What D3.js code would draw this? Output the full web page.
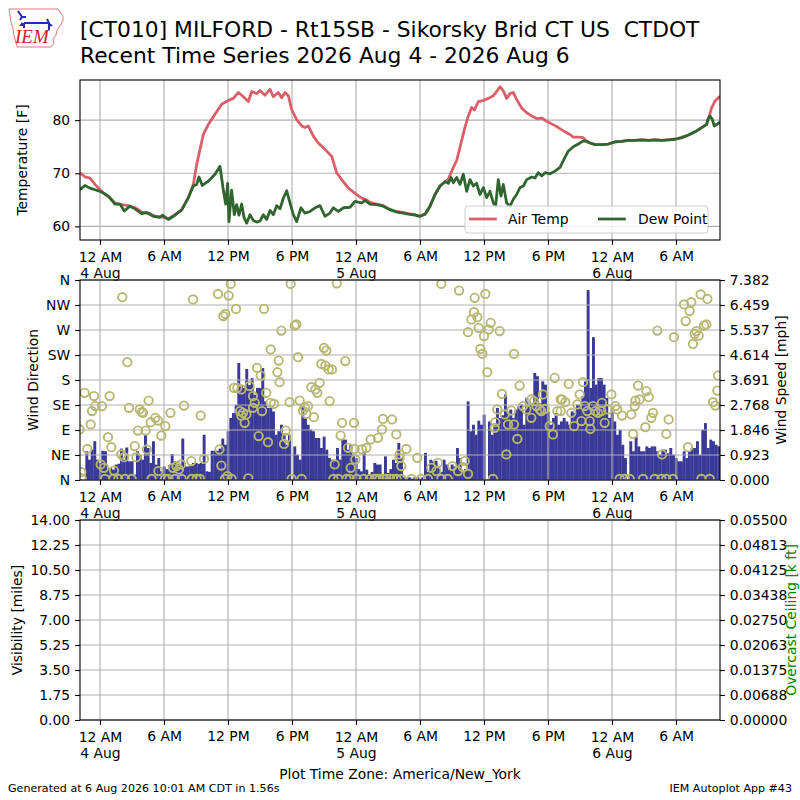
<!DOCTYPE html>
<html><head><meta charset="utf-8">
<script src="https://cdn.jsdelivr.net/npm/d3@7"></script>
<style>body{margin:0;background:#fff} svg{font-family:"DejaVu Sans",sans-serif}</style>
</head><body><svg id="c" width="800" height="800"></svg>
<script>
// ---------------- DATA ----------------
const titleLines = ["[CT010] MILFORD - Rt15SB - Sikorsky Brid CT US  CTDOT",
                    "Recent Time Series 2026 Aug 4 - 2026 Aug 6"];
const footerLeft = "Generated at 6 Aug 2026 10:01 AM CDT in 1.56s";
const footerRight = "IEM Autoplot App #43";
const xLabel = "Plot Time Zone: America/New_York";
// hours relative to 2026-08-04 00:00 America/New_York
const baseTimeMs = Date.UTC(2026, 7, 4, 0, 0);
const xStartHour = -1.875, xEndHour = 58.125;
const timeTickHours = [0, 6, 12, 18, 24, 30, 36, 42, 48, 54];
const hourLabels = ["12 AM", "6 AM", "12 PM", "6 PM"];

const airTemp = [[-1.875,70.1],[-1.406,69.3],[-0.9375,69.1],[-0.469,67.9],[0,66.9],[0.469,66.0],[0.9375,65.4],[1.406,64.4],[2.03,64.1],[2.66,63.9],[3.28,63.5],[3.91,62.7],[4.53,62.5],[5.16,61.9],[5.78,61.8],[6.41,61.4],[7.03,62.2],[7.66,63.1],[8.28,65.4],[8.75,67.9],[9.06,71.6],[9.375,74.5],[9.69,77.3],[10.16,79.2],[10.78,81.1],[11.41,83.0],[12.03,83.7],[12.5,84.1],[12.97,85.2],[13.44,84.4],[13.91,83.5],[14.22,85.4],[14.69,85.0],[15.0,85.6],[15.47,84.7],[15.94,85.8],[16.25,84.4],[16.72,85.2],[17.03,84.2],[17.34,85.2],[17.66,84.6],[17.97,82.0],[18.44,80.1],[18.91,78.9],[19.22,78.6],[19.53,78.9],[20.0,77.0],[20.47,75.7],[21.09,74.5],[21.72,73.2],[22.19,70.1],[22.66,68.8],[23.28,67.2],[23.91,66.2],[24.53,65.3],[25.0,65.0],[25.31,64.5],[25.94,64.2],[26.56,63.9],[27.19,63.2],[27.81,62.8],[28.44,62.6],[28.91,62.4],[29.53,62.2],[30.0,61.9],[30.47,62.3],[30.94,63.8],[31.41,66.0],[31.875,67.6],[32.34,68.4],[32.66,68.9],[33.125,71.1],[33.44,72.4],[33.91,76.2],[34.22,78.7],[34.53,80.8],[34.84,82.4],[35.09,81.9],[35.47,83.5],[35.94,83.7],[36.41,84.1],[36.875,84.6],[37.19,85.4],[37.5,86.3],[37.81,85.5],[38.125,84.1],[38.44,85.0],[38.75,85.2],[39.06,83.9],[39.53,82.3],[40.0,81.4],[40.47,80.8],[40.94,80.3],[41.41,80.4],[41.875,79.8],[42.34,79.3],[42.97,78.6],[43.59,77.8],[44.06,77.3],[44.375,76.8],[44.84,76.8],[45.31,76.7],[45.625,76.0],[45.94,75.7],[46.41,75.4],[47.03,75.4],[47.66,75.5],[48.28,75.9],[48.91,76.0],[49.53,76.2],[50.16,76.2],[50.78,76.3],[51.41,76.2],[52.03,76.3],[52.66,76.2],[53.28,76.3],[53.91,76.4],[54.53,76.7],[55.16,77.2],[55.78,77.8],[56.41,78.6],[56.875,79.2],[57.03,80.1],[57.34,82.3],[57.66,83.6],[58.125,84.5]];

const dewPoint = [[-1.875,66.9],[-1.406,67.7],[-0.9375,67.2],[-0.469,66.9],[0,66.6],[0.3125,66.3],[0.78,65.7],[1.406,64.2],[1.875,64.2],[2.28,62.9],[2.81,63.8],[3.28,63.3],[3.91,62.4],[4.375,62.6],[5.0,61.9],[5.625,61.7],[5.84,62.1],[6.41,61.3],[7.03,62.1],[7.66,63.1],[8.28,65.4],[8.75,67.6],[9.06,67.9],[9.28,69.3],[9.59,67.7],[10.16,68.5],[10.78,69.8],[11.25,71.3],[11.56,66.9],[11.78,64.2],[11.97,68.1],[12.09,60.9],[12.34,66.8],[12.59,62.2],[12.81,64.1],[13.03,62.1],[13.28,64.2],[13.5,61.7],[13.75,60.6],[14.06,62.2],[14.375,61.1],[14.69,60.8],[15.0,61.0],[15.31,62.2],[15.625,61.3],[15.94,63.0],[16.25,62.2],[16.56,63.9],[16.875,63.3],[17.19,65.3],[17.5,66.7],[17.81,64.4],[18.125,62.2],[18.44,60.9],[18.84,63.5],[19.22,62.5],[19.69,62.8],[20.16,63.5],[20.625,63.9],[21.09,61.9],[21.56,62.5],[21.875,63.5],[22.34,62.8],[22.81,63.5],[23.44,63.6],[23.91,64.7],[24.53,64.4],[24.84,64.9],[25.31,64.2],[25.94,64.1],[26.56,63.8],[27.19,63.1],[27.81,62.7],[28.44,62.5],[28.91,62.3],[29.53,62.1],[30.0,61.9],[30.47,62.3],[30.94,63.8],[31.41,66.0],[31.875,67.6],[32.34,68.4],[32.66,68.1],[32.91,69.2],[33.125,68.2],[33.44,69.2],[33.75,67.9],[34.06,69.8],[34.375,66.6],[34.69,68.8],[35.0,67.6],[35.31,68.1],[35.625,66.0],[35.94,67.3],[36.25,65.4],[36.56,66.6],[36.875,64.4],[37.09,63.8],[37.34,68.8],[37.59,65.7],[37.81,67.9],[38.125,64.4],[38.44,63.8],[38.75,65.1],[39.06,66.0],[39.375,67.3],[39.69,67.6],[40.0,68.8],[40.47,69.3],[40.78,69.1],[41.09,70.1],[41.41,69.5],[41.72,70.1],[42.19,69.9],[42.66,70.4],[43.125,71.1],[43.59,73.0],[43.91,74.2],[44.375,75.0],[44.84,75.5],[45.31,76.1],[45.625,76.0],[45.94,75.7],[46.41,75.4],[47.03,75.4],[47.66,75.5],[48.28,75.9],[48.91,76.0],[49.53,76.2],[50.16,76.2],[50.78,76.3],[51.41,76.2],[52.03,76.3],[52.66,76.2],[53.28,76.3],[53.91,76.4],[54.53,76.7],[55.16,77.2],[55.78,77.8],[56.41,78.6],[56.875,79.2],[56.97,80.1],[57.19,80.8],[57.41,80.1],[57.59,78.9],[58.125,79.6]];

// wind speed [mph], one value every 15 minutes starting at windStartHour
const windStartHour = -1.5, windStepHours = 0.25;
const windSpeed = [0,1.06,
0.75,1.12,1.43,0.75, 0.63,1.08,1.06,0.40, 0.45,0.38,0.57,0.60, 1.16,0.75,1.20,0.69,
0.69,0.20,1.06,0.93, 0.75,1.67,1.18,0.63, 1.43,0.57,0.81,0.32, 0.50,0.40,0.55,0.96,
0.69,0.60,0.57,1.53, 0.50,0.50,0.55,0.63, 0.63,0.60,0.63,1.67, 0.32,0.30,1.08,1.08,
1.08,1.16,1.53,1.30, 1.80,2.29,2.47,2.78, 4.32,3.50,3.40,4.10, 3.50,3.76,3.15,3.40,
3.40,4.13,2.90,2.66, 2.66,2.53,1.67,1.80, 2.04,1.67,1.30,1.67, 0.00,1.24,0.93,0.75,
2.72,2.29,2.04,1.86, 1.80,1.55,1.55,1.18, 1.60,1.12,0.81,0.75, 0.75,1.18,0.75,1.49,
1.49,1.12,1.30,0.93, 0.81,0.40,0.32,1.06, 0.38,0.20,0.30,0.63, 0.57,0.57,0.20,0.87,
0.26,0.40,0.75,0.63, 1.37,0.81,0.10,0.05, 0.10,0.05,0.10,0.10, 0.05,0.10,1.00,0.30,
0.75,0.69,0.71,0.50, 0.30,0.75,0.57,0.38, 0.57,0.50,1.18,0.81, 0.30,0.40,2.90,1.80,
2.04,1.67,2.19,2.04, 2.41,0.00,2.16,1.67, 2.04,2.66,2.29,2.39, 3.15,2.53,2.60,2.29,
2.60,2.72,2.78,2.04, 3.03,2.78,2.78,3.95, 3.83,2.84,3.64,3.52, 2.53,2.04,2.29,2.47,
2.04,2.16,2.29,2.16, 2.04,2.53,2.47,2.78, 2.78,3.09,3.64,7.01, 3.40,5.27,3.52,3.76,
3.76,3.52,3.03,2.29, 2.66,2.16,1.67,1.86, 1.30,0.81,0.00,1.43, 1.06,1.60,1.24,1.06,
1.06,1.24,1.18,1.24, 1.24,1.06,0.93,1.12, 1.12,0.99,1.18,0.93, 0.81,0.69,0.69,1.06,
0.81,1.06,1.18,1.18, 1.43,0.93,1.86,2.10, 1.18,1.49,1.43,1.30, 1.24];

// wind direction observations [hour, degrees]
const windDir = [[-1.91,91],[-1.75,14],[-1.44,157],[-1.19,56],[-0.875,100],[-0.75,124],[-0.56,151],[-0.44,133],[0.19,133],[0.06,28],[0.375,22],[0.75,77],[0.9,151],[1.06,59],[1.31,17],[2.0,46],[2.25,41],[2.09,329],[2.56,212],[2.72,130],[3.25,61],[3.4,41],[3.56,89],[3.72,127],[3.94,122],[4.03,121],[4.28,89],[4.4,55],[4.56,143],[4.75,104],[5.19,112],[5.44,107],[5.47,16],[5.75,80],[6.125,97],[6.6,121],[6.84,22],[7.16,25],[7.4,19],[7.6,28],[7.875,134],[8.56,34],[8.72,325],[9.44,116],[9.75,38],[11.06,335],[11.2,55],[11.375,26],[11.56,295],[11.75,299],[12.06,332],[12.25,353],[12.75,308],[12.56,166],[12.875,166],[13.125,124],[11.94,7],
[-1.72,3],[0.47,2],[1.25,2],[1.72,2],[2.34,2],[2.97,2],[4.84,2],[6.09,2],[6.4,2],[7.03,2],[7.66,2],[8.6,2],[9.06,2],[9.375,2],[11.72,2],[12.34,2],[13.9,3],[17.97,2],[18.9,2],[21.875,2],[22.34,2],[23.1,2],[23.41,2],[24.06,2],[24.7,2],[25.3,2],[25.75,2],[25.9,2],[26.22,2],[26.56,2],[26.84,2],[27.2,2],[27.47,2],[27.8,2],
[13.25,163],[13.25,116],[13.41,121],[13.56,103],[13.72,118],[14.03,169],[14.34,151],[14.34,130],[14.5,139],[14.72,202],[14.875,79],[15.06,188],[15.19,124],[15.375,308],[15.59,157],[15.75,68],[16.0,235],[16.0,139],[16.31,137],[16.625,194],[16.75,215],[16.84,176],[17.0,269],[17.25,65],[17.41,89],[17.47,76],[17.78,140],[17.875,353],[18.25,278],[18.41,280],[18.56,221],[18.72,143],[19.03,125],[19.19,131],[19.34,119],[19.5,133],[19.81,167],[20.06,113],[20.19,163],[20.375,157],[20.59,175],[20.75,209],[21.0,238],[21.125,206],[21.22,233],[21.44,199],[21.53,142],[21.75,199],[22.0,28],[22.2,354],[22.56,80],[22.69,103],[23.0,214],[23.25,58],[23.5,22],[23.81,103],[23.875,56],[23.94,37],[24.56,55],[24.97,58],[25.375,73],[26.06,76],[26.44,91],[26.53,110],[27.375,109],[27.78,82],[28.09,46],[28.25,25],
[28.09,40],[28.72,56],[29.75,40],[32.0,353],[33.66,341],[35.125,328],[36.125,335],[35.06,302],[34.81,289],[35.375,293],[35.5,274],[36.625,283],[36.44,271],[37.47,268],[34.5,266],[36.0,259],[35.66,236],[35.84,227],[38.81,227],[36.31,194],[39.34,170],[37.69,155],[42.625,184],[37.25,127],[37.94,118],[38.56,125],[37.06,104],[37.0,94],[38.25,100],[38.81,100],[39.125,74],[38.09,46],[39.66,133],[39.97,127],[40.44,145],[40.69,142],[40.91,133],[40.44,112],[41.22,127],[41.53,154],[41.375,124],[41.69,128],[42.16,97],[42.47,82],[42.875,124],[43.19,145],[34.19,34],[34.03,23],[34.5,11],[31.69,31],[31.06,22],[31.53,16],[33.03,25],[33.56,16],[36.84,2],
[28.25,2],[29.19,2],[30.1,2],[30.75,2],[32.0,2],[32.6,2],
[43.31,145],[43.625,140],[43.94,173],[43.19,124],[44.19,121],[44.44,97],[45.28,176],[44.97,154],[44.75,136],[45.44,133],[45.69,124],[45.125,106],[45.91,106],[45.97,92],[46.22,133],[46.44,124],[46.69,121],[47.06,139],[47.31,103],[47.0,124],[47.625,127],[47.94,154],[48.31,133],[48.5,127],[48.94,116],[49.81,118],[49.97,83],[50.125,133],[50.44,170],[50.19,143],[50.59,145],[51.22,160],[51.44,149],[51.84,121],[51.69,112],[51.125,95],[52.25,269],[53.31,109],[53.09,83],[52.69,46],[53.81,257],[54.75,316],[55.44,320],[55.28,304],[54.91,286],[56.31,334],[56.94,326],[56.63,278],[55.91,268],[55.75,263],[56.13,260],[55.59,245],[56.84,280],[55.125,59],[57.94,188],[57.875,161],[57.47,140],[57.69,134],
[48.72,2],[49.19,2],[49.66,2],[50.91,2],[52.0,2],[52.63,2],[53.09,2],[53.72,2],[56.38,2],[57.16,2]];

const tempTicks = [60, 70, 80];
const tempDomain = [57.43, 87.56];
const dirTicks = [0, 45, 90, 135, 180, 225, 270, 315, 360];
const dirLabels = ["N", "NE", "E", "SE", "S", "SW", "W", "NW", "N"];
const speedMax = 7.3824;
const speedTickLabels = ["0.000","0.923","1.846","2.768","3.691","4.614","5.537","6.459","7.382"];
const visTicks = [0, 1.75, 3.5, 5.25, 7, 8.75, 10.5, 12.25, 14];
const visTickLabels = ["0.00","1.75","3.50","5.25","7.00","8.75","10.50","12.25","14.00"];
const ceilMax = 0.055;
const ceilTickLabels = ["0.00000","0.00688","0.01375","0.02063","0.02750","0.03438","0.04125","0.04813","0.05500"];
const legendNames = ["Air Temp", "Dew Point"];

// ---------------- STYLE ----------------
const C = { temp:"#da5f68", dew:"#30652f", bar:"#393998", dir:"#b8b874", grid:"#b0b0b0", ceil:"#008000" };
const FS = 13.9;
const L = 80, R = 720;
const P = [{t:80,b:240},{t:280,b:480},{t:520,b:720}];

const svg = d3.select("#c");
const T = h => new Date(baseTimeMs + h * 3600000);
const x = d3.scaleUtc().domain([T(xStartHour), T(xEndHour)]).range([L, R]);
const timeTicks = timeTickHours.map(T);
const yT = d3.scaleLinear().domain(tempDomain).range([P[0].b, P[0].t]);
const yDir = d3.scaleLinear().domain([0, 360]).range([P[1].b, P[1].t]);
const ySpd = d3.scaleLinear().domain([0, speedMax]).range([P[1].b, P[1].t]);
const yVis = d3.scaleLinear().domain([0, 14]).range([P[2].b, P[2].t]);
const yCeil = d3.scaleLinear().domain([0, ceilMax]).range([P[2].b, P[2].t]);

const defs = svg.append("defs");
P.forEach((p, i) => defs.append("clipPath").attr("id", "clip" + i).append("rect")
  .attr("x", L).attr("y", p.t).attr("width", R - L).attr("height", p.b - p.t));

function vGrid(p) {
  svg.append("g").selectAll("line").data(timeTicks).join("line")
    .attr("x1", d => x(d)).attr("x2", d => x(d)).attr("y1", p.t).attr("y2", p.b)
    .attr("stroke", C.grid).attr("stroke-width", 1.1);
}
function hGrid(scale, vals) {
  svg.append("g").selectAll("line").data(vals).join("line")
    .attr("x1", L).attr("x2", R).attr("y1", d => scale(d)).attr("y2", d => scale(d))
    .attr("stroke", C.grid).attr("stroke-width", 1.1);
}
function frame(p) {
  svg.append("rect").attr("x", L).attr("y", p.t).attr("width", R - L).attr("height", p.b - p.t)
    .attr("fill", "none").attr("stroke", "#000").attr("stroke-width", 1.1);
}
function styleAxis(g) {
  g.attr("font-family", "DejaVu Sans").attr("font-size", FS);
  g.select(".domain").remove();
  g.selectAll(".tick line").attr("stroke", "#000").attr("stroke-width", 1.1);
  g.selectAll(".tick text").attr("fill", "#000");
}
function xAxis(p) {
  const g = svg.append("g").attr("transform", `translate(0,${p.b})`)
    .call(d3.axisBottom(x).tickValues(timeTicks).tickSize(4.9).tickFormat(""));
  styleAxis(g);
  g.selectAll(".tick text").remove();
  g.selectAll(".tick").each(function (d) {
    const hh = d.getUTCHours();
    const t = d3.select(this).append("text").attr("text-anchor", "middle").attr("fill", "#000");
    if (hh === 0) {
      t.append("tspan").attr("x", 0).attr("y", 22).text(hourLabels[0]);
      t.append("tspan").attr("x", 0).attr("y", 38).text(d3.utcFormat("%-d %b")(d));
    } else {
      t.attr("y", 21).text(hourLabels[hh / 6]);
    }
  });
}
function yAxisLeft(scale, vals, labels) {
  const g = svg.append("g").attr("transform", `translate(${L},0)`)
    .call(d3.axisLeft(scale).tickValues(vals).tickSize(4.9).tickPadding(4.9).tickFormat((d, i) => labels[i]));
  styleAxis(g);
}
function yAxisRight(scale, vals, labels) {
  const g = svg.append("g").attr("transform", `translate(${R},0)`)
    .call(d3.axisRight(scale).tickValues(vals).tickSize(4.9).tickPadding(4.9).tickFormat((d, i) => labels[i]));
  styleAxis(g);
}
function rotLabel(txt, cx, cy, color) {
  svg.append("text").attr("transform", `translate(${cx},${cy}) rotate(-90)`)
    .attr("text-anchor", "middle").attr("dominant-baseline", "central")
    .attr("font-size", FS).attr("fill", color || "#000").text(txt);
}

// ---------- Panel 1: temperature ----------
vGrid(P[0]);
hGrid(yT, tempTicks);
const line = d3.line().x(d => x(T(d[0]))).y(d => yT(d[1]));
const g1 = svg.append("g").attr("clip-path", "url(#clip0)");
g1.append("path").datum(airTemp).attr("d", line).attr("fill", "none").attr("stroke", C.temp)
  .attr("stroke-width", 2.8).attr("stroke-linejoin", "round");
g1.append("path").datum(dewPoint).attr("d", line).attr("fill", "none").attr("stroke", C.dew)
  .attr("stroke-width", 2.8).attr("stroke-linejoin", "round");
frame(P[0]);
xAxis(P[0]);
yAxisLeft(yT, tempTicks, tempTicks.map(String));
rotLabel("Temperature [F]", 22, 160);

// legend
const lg = svg.append("g");
lg.append("rect").attr("x", 465).attr("y", 206).attr("width", 243).attr("height", 27).attr("rx", 3)
  .attr("fill", "#fff").attr("fill-opacity", 0.8).attr("stroke", "#cccccc").attr("stroke-width", 1);
[[C.temp, 469, 508], [C.dew, 598, 638]].forEach((s, i) => {
  lg.append("line").attr("x1", s[1]).attr("x2", s[1] + 27.8).attr("y1", 219).attr("y2", 219)
    .attr("stroke", s[0]).attr("stroke-width", 2.8);
  lg.append("text").attr("x", s[2]).attr("y", 224).attr("font-size", FS).attr("fill", "#000").text(legendNames[i]);
});

// ---------- Panel 2: wind ----------
const step = x(T(windStepHours)) - x(T(0));
const g2 = svg.append("g").attr("clip-path", "url(#clip1)");
g2.selectAll("rect").data(windSpeed).join("rect")
  .attr("x", (d, i) => x(T(windStartHour + i * windStepHours)) - step / 2)
  .attr("width", step + 0.25)
  .attr("y", d => ySpd(d)).attr("height", d => ySpd(0) - ySpd(d))
  .attr("fill", C.bar);
vGrid(P[1]);
hGrid(yDir, dirTicks);
const g2b = svg.append("g").attr("clip-path", "url(#clip1)");
g2b.selectAll("circle").data(windDir).join("circle")
  .attr("cx", d => x(T(d[0]))).attr("cy", d => yDir(d[1])).attr("r", 4.2)
  .attr("fill", "none").attr("stroke", C.dir).attr("stroke-width", 1.9);
frame(P[1]);
xAxis(P[1]);
yAxisLeft(yDir, dirTicks, dirLabels);
yAxisRight(ySpd, d3.range(9).map(i => i * speedMax / 8), speedTickLabels);
rotLabel("Wind Direction", 33, 380);
rotLabel("Wind Speed [mph]", 781, 380);

// ---------- Panel 3: visibility / ceiling ----------
vGrid(P[2]);
hGrid(yVis, visTicks);
frame(P[2]);
xAxis(P[2]);
yAxisLeft(yVis, visTicks, visTickLabels);
yAxisRight(yCeil, d3.range(9).map(i => i * ceilMax / 8), ceilTickLabels);
rotLabel("Visibility [miles]", 17, 620);
rotLabel("Overcast Ceiling [k ft]", 791, 620, C.ceil);

// ---------- Titles / footer ----------
svg.append("text").attr("x", 80).attr("y", 37).attr("font-size", 21.8).attr("fill", "#000")
  .style("white-space", "pre").text(titleLines[0]);
svg.append("text").attr("x", 80).attr("y", 63).attr("font-size", 21.8).attr("fill", "#000")
  .text(titleLines[1]);
svg.append("text").attr("x", 400).attr("y", 779).attr("text-anchor", "middle").attr("font-size", FS)
  .attr("fill", "#000").text(xLabel);
svg.append("text").attr("x", 8).attr("y", 792).attr("font-size", 11.1).attr("fill", "#000").text(footerLeft);
svg.append("text").attr("x", 792).attr("y", 792).attr("text-anchor", "end").attr("font-size", 11.1)
  .attr("fill", "#000").text(footerRight);

// ---------- Logo ----------
const logo = svg.append("g");
logo.append("path").attr("d", "M9,9 L58,9 L60,12 L63,16 L63,21 L60,26 L57,30 L56,35 L53,39 L54,43 L51,47 L17,47 L16,42 L14,36 L13,29 L11,22 L10,15 Z")
  .attr("fill", "none").attr("stroke", "#e07a7a").attr("stroke-width", 1);
logo.append("path").attr("d", "M18,11 L22,17 L20,20 M22,17 L26,17 M24,23 L48,23 L52,26 M47,19 L49,23 L49,30 M24,23 L24,28")
  .attr("fill", "none").attr("stroke", "#2a2ab0").attr("stroke-width", 2);
logo.append("path").attr("d", "M19,26 L22,22 L25,26 Z").attr("fill", "#2a2ab0");
logo.append("text").attr("x", 15).attr("y", 43).attr("font-family", "Liberation Serif, serif")
  .attr("font-style", "italic").attr("font-size", 19).attr("fill", "#cc2222").text("IEM");
</script></body></html>
